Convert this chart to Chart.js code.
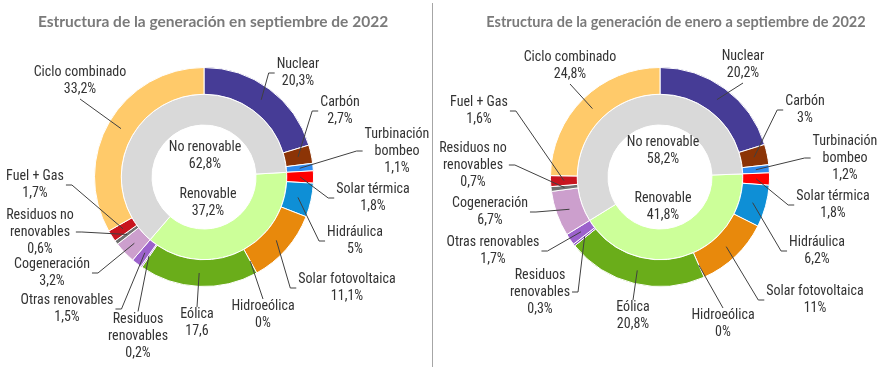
<!DOCTYPE html>
<html>
<head>
<meta charset="utf-8">
<script src="https://cdn.jsdelivr.net/npm/chart.js@4.4.0/dist/chart.umd.min.js"></script>
<style>
  body { margin: 0; background: #fff; }
  #wrap { position: relative; width: 885px; height: 369px; }
  canvas { position: absolute; left: 0; top: 0; }
  #divider { position: absolute; left: 432px; top: 3px; width: 1px; height: 364px; background: #a6a6a6; }
</style>
</head>
<body>
<div id="wrap">
  <canvas id="sep" width="885" height="369"></canvas>
  <canvas id="ytd" width="885" height="369"></canvas>
  <div id="divider"></div>
</div>
<script>
// categories, clockwise from the top
var categories = ['Nuclear', 'Carbón', 'Turbinación bombeo', 'Solar térmica', 'Hidráulica',
  'Solar fotovoltaica', 'Hidroeólica', 'Eólica', 'Residuos renovables', 'Otras renovables',
  'Cogeneración', 'Residuos no renovables', 'Fuel + Gas', 'Ciclo combinado'];
var sepValues = [20.3, 2.7, 1.1, 1.8, 5, 11.1, 0, 17.6, 0.2, 1.5, 3.2, 0.6, 1.7, 33.2];
var ytdValues = [20.2, 3, 1.2, 1.8, 6.2, 11, 0, 20.8, 0.3, 1.7, 6.7, 0.7, 1.6, 24.8];
var renewable = [false, false, false, true, true, true, true, true, true, true, false, false, false, false];

var groupLabels = ['Renovable', 'No renovable'];
var sepGroup = [37.2, 62.8];
var ytdGroup = [41.8, 58.2];

var colors = ['#463c96', '#8c3406', '#2f8cf0', '#ff0000', '#0e8fd6', '#e8890c', '#5aa0c8',
  '#6aad1a', '#8a4fc0', '#9c62cc', '#cc9fcd', '#707070', '#c8141e', '#ffca6a'];
var groupColors = ['#ccff99', '#d9d9d9'];

var FONT = "'Liberation Sans Narrow', 'Roboto Condensed', Roboto, sans-serif";
var LH = 17;

// label placement: centre of text block, side of the block the leader attaches to, words on first line
var sepLayout = [
  {x: 298, y: 73, side: 'l'},
  {x: 340, y: 111, side: 'l'},
  {x: 397, y: 151, side: 'l', wrap: 1},
  {x: 373, y: 198, side: 'l'},
  {x: 355, y: 241, side: 'l'},
  {x: 347, y: 288, side: 'l'},
  {x: 263, y: 315, side: 't'},
  {x: 197, y: 323, side: 't', noPct: true},
  {x: 138, y: 336, side: 't', wrap: 1},
  {x: 67, y: 309, side: 'r'},
  {x: 52, y: 273, side: 'r'},
  {x: 40, y: 232, side: 'r', wrap: 2},
  {x: 35, y: 185, side: 'r'},
  {x: 80, y: 81, side: 'b'}
];
var ytdLayout = [
  {x: 743, y: 65, side: 'b'},
  {x: 805, y: 110, side: 'l'},
  {x: 845, y: 158, side: 'l', wrap: 1},
  {x: 833, y: 205, side: 'l'},
  {x: 817, y: 251, side: 'l'},
  {x: 815, y: 300, side: 'l'},
  {x: 723, y: 324, side: 't'},
  {x: 633, y: 316, side: 't'},
  {x: 540, y: 292, side: 'r', wrap: 1},
  {x: 493, y: 251, side: 'r'},
  {x: 490, y: 212, side: 'r'},
  {x: 473, y: 165, side: 'r', wrap: 2},
  {x: 479, y: 111, side: 'r'},
  {x: 570, y: 66, side: 'b'}
];

function fmt(v, pct) {
  return String(v).replace('.', ',') + (pct ? '%' : '');
}

var leaders = {
  id: 'leaders',
  afterDatasetsDraw: function(chart, args, o) {
    var ctx = chart.ctx;
    var meta = chart.getDatasetMeta(0);
    ctx.save();
    ctx.font = '14px ' + FONT;
    ctx.textAlign = 'center';
    ctx.textBaseline = 'middle';
    meta.data.forEach(function(arc, i) {
      var L = o.layout[i];
      var words = categories[i].split(' ');
      var lines = L.wrap ? [words.slice(0, L.wrap).join(' '), words.slice(L.wrap).join(' ')] : [categories[i]];
      lines.push(fmt(o.values[i], !L.noPct));
      var w = 0;
      lines.forEach(function(t) { w = Math.max(w, ctx.measureText(t).width); });
      var top = L.y - lines.length * LH / 2;
      var p = arc.getProps(['x', 'y', 'startAngle', 'endAngle', 'innerRadius', 'outerRadius'], true);
      var a = (p.startAngle + p.endAngle) / 2;
      var r = (p.innerRadius + p.outerRadius) / 2;
      var ax = p.x + Math.cos(a) * r, ay = p.y + Math.sin(a) * r;
      ctx.strokeStyle = '#404040';
      ctx.lineWidth = 1;
      ctx.beginPath();
      ctx.moveTo(ax, ay);
      if (L.side === 'l') {
        ctx.lineTo(L.x - w / 2 - 8, L.y);
        ctx.lineTo(L.x - w / 2 - 2, L.y);
      } else if (L.side === 'r') {
        ctx.lineTo(L.x + w / 2 + 8, L.y);
        ctx.lineTo(L.x + w / 2 + 2, L.y);
      } else if (L.side === 't') {
        ctx.lineTo(L.x, top + 1);
      } else {
        ctx.lineTo(L.x, top + lines.length * LH + 1);
      }
      ctx.stroke();
      ctx.fillStyle = '#333333';
      lines.forEach(function(t, k) { ctx.fillText(t, L.x, top + LH / 2 + k * LH); });
    });
    // centre labels
    o.centre.forEach(function(c, k) {
      ctx.fillText(groupLabels[k], c.x, c.y - LH / 2);
      ctx.fillText(fmt(o.group[k], true), c.x, c.y + LH / 2);
    });
    // title
    ctx.font = 'bold ' + o.titleSize + 'px Lato, sans-serif';
    ctx.fillStyle = '#7a7a7a';
    ctx.fillText(o.title, o.titleX, 22);
    ctx.restore();
  }
};

function startAngle(values) {
  // inner ring starts where the first renewable category begins
  var s = 0;
  for (var i = 0; i < values.length && !renewable[i]; i++) s += values[i];
  return s * 3.6;
}

function donut(id, values, group, layout, pad, title, titleX, titleSize, centre) {
  return new Chart(document.getElementById(id), {
    type: 'doughnut',
    data: {
      labels: categories,
      datasets: [
        {data: values, backgroundColor: colors, borderColor: '#ffffff', borderWidth: 1, weight: 27},
        {data: group, backgroundColor: groupColors, borderColor: '#ffffff', borderWidth: 1, weight: 31,
          rotation: startAngle(values)}
      ]
    },
    options: {
      responsive: false,
      animation: false,
      events: [],
      cutout: 52,
      layout: {padding: pad},
      plugins: {
        legend: {display: false},
        tooltip: {enabled: false},
        leaders: {layout: layout, values: values, group: group, title: title, titleX: titleX,
          titleSize: titleSize, centre: centre}
      }
    },
    plugins: [leaders]
  });
}

donut('sep', sepValues, sepGroup, sepLayout, {left: 94, right: 571, top: 67, bottom: 82},
  'Estructura de la generación en septiembre de 2022', 213, 15.5,
  [{x: 208, y: 203}, {x: 205, y: 156}]);
donut('ytd', ytdValues, ytdGroup, ytdLayout, {left: 550, right: 115, top: 67, bottom: 82},
  'Estructura de la generación de enero a septiembre de 2022', 676, 14.5,
  [{x: 663, y: 207}, {x: 663, y: 151}]);
</script>
</body>
</html>
